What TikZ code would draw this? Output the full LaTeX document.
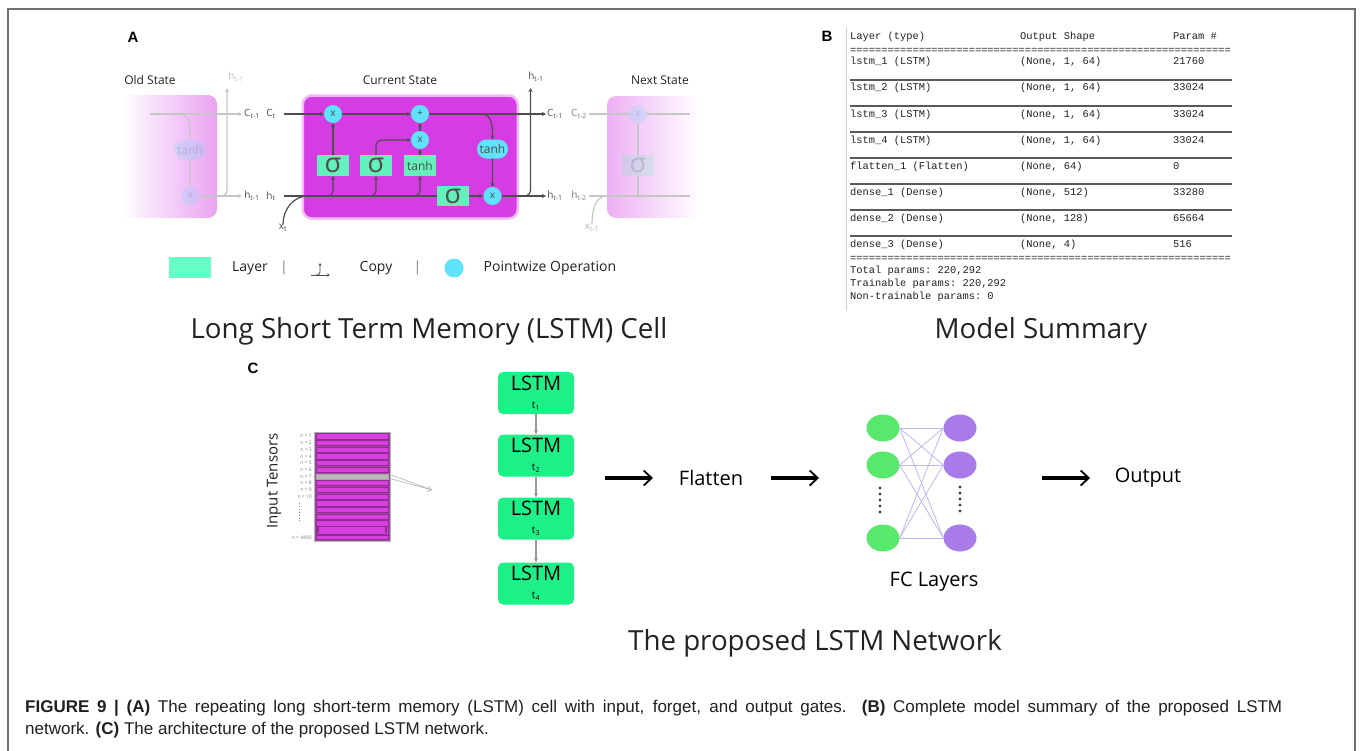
\documentclass[tikz,border=0pt]{standalone}
\usepackage{fontspec}
\setmainfont{Open Sans}
\setmonofont{Liberation Mono}
\newfontfamily\capfont{Liberation Sans}
\usetikzlibrary{arrows.meta,positioning,shapes.geometric,shapes.misc,calc}
\definecolor{txt}{HTML}{222222}
\definecolor{wiregray}{HTML}{4D4D4D}
\definecolor{cellpink}{HTML}{D63CE4}
\definecolor{oldpink}{HTML}{E9A3F1}
\definecolor{gategreen}{HTML}{63F0BA}
\definecolor{leggreen}{HTML}{66FFC6}
\definecolor{opcyan}{HTML}{5EE3FA}
\definecolor{lstmgreen}{HTML}{1EF088}
\definecolor{neurgreen}{HTML}{58E86C}
\definecolor{neurpurple}{HTML}{A87BE8}
\definecolor{linklav}{HTML}{BDB5F0}
\definecolor{tensorpink}{HTML}{D93FDF}
\definecolor{tensordark}{HTML}{8E2C92}
\definecolor{framegray}{HTML}{707070}
\definecolor{capblack}{HTML}{231F20}

\begin{document}
\begin{tikzpicture}[
  x=1pt, y=-1pt,
  >={Stealth[length=4pt,width=4pt]},
  ttl/.style={font=\fontsize{27.7}{30}\selectfont, text=txt, inner sep=0pt},
  panel/.style={font=\capfont\bfseries\fontsize{15}{16}\selectfont, inner sep=0pt},
  statelbl/.style={font=\fontsize{12}{13}\selectfont, text=txt, inner sep=0pt},
  lbl/.style={font=\fontsize{10}{10}\selectfont, text=wiregray, inner sep=0pt},
  cellbox/.style={fill=cellpink, draw=cellpink!35, line width=2.5pt, rounded corners=9pt, minimum width=215pt, minimum height=123pt},
  gate/.style={fill=gategreen, minimum width=32.5pt, minimum height=20.5pt, inner sep=0pt, font=\fontsize{12}{12}\selectfont, text=wiregray},
  sig/.style={gate, font=\fontsize{27}{27}\selectfont},
  pw/.style={circle, fill=opcyan, minimum size=18pt, inner sep=0pt, font=\fontsize{10}{10}\selectfont, text=wiregray},
  pill/.style={rounded rectangle, fill=opcyan, minimum width=31pt, minimum height=19pt, inner sep=0pt, font=\fontsize{12}{12}\selectfont, text=wiregray},
  wire/.style={draw=wiregray, line width=1.2pt},
  faint/.style={draw=gray!45, line width=1.2pt},
  ghost/.style={opacity=0.2},
  leg/.style={font=\fontsize{14}{14}\selectfont, text=txt, inner sep=0pt},
  mono/.style={font=\ttfamily\fontsize{10.4}{12}\selectfont, text=txt, anchor=west, inner sep=0pt, text height=7pt, text depth=2pt},
  rowrule/.style={draw=gray!70!black, line width=1.2pt},
  lstm/.style={fill=lstmgreen, rounded corners=5pt, minimum width=76pt, minimum height=42pt, inner sep=0pt, align=center, font=\fontsize{20}{18}\selectfont, text=black},
  down/.style={->, draw=gray!80, line width=1.3pt},
  nlbl/.style={font=\fontsize{5}{5}\selectfont, text=gray, anchor=east, inner sep=0pt},
  stripe/.style={fill=tensorpink, draw=tensordark, line width=0.6pt},
  fat/.style={line width=4.5pt, -{Straight Barb[length=8pt,width=15pt,line width=1.8pt]}},
  neur/.style={ellipse, minimum width=33pt, minimum height=27pt, inner sep=0pt},
  link/.style={draw=linklav, line width=0.8pt},
  bigtxt/.style={font=\fontsize{20}{20}\selectfont, text=black, inner sep=0pt},
  capline/.style={font=\capfont\fontsize{17}{19}\selectfont, text=capblack, anchor=west, inner sep=0pt},
]

\useasboundingbox (0,0) rectangle (1360,750);
\draw[framegray, line width=1.2pt] (8,760) -- (8,9) -- (1355,9) -- (1355,760);

\node[panel] (pa) at (133,37) {A};
\node[statelbl] (olds) at (150,80) {Old State};
\node[statelbl] (curs) at (400,80) {Current State};
\node[statelbl] (nexts) at (660,80) {Next State};

\shade[left color=white, middle color=oldpink!35!white, right color=oldpink, rounded corners=9pt] (120,95) rectangle (217,218);
\shade[left color=oldpink!85!white, right color=white, rounded corners=9pt] (607,96) rectangle (700,218);
\node[cellbox] (cell) at (410.25,157) {};

\node[pill, ghost] (otanh) at (190,150) {tanh};
\node[pw, ghost] (omul) at (190,196) {x};
\coordinate (ocin) at (150,114);
\coordinate (ocbr) at (180,114);
\coordinate (ocout) at (242,114);
\coordinate (ohbr) at (219,196);
\coordinate (ohout) at (242,196);
\coordinate (ohup) at (227,88);
\draw[faint,->] (ocin) -- (ocout);
\draw[faint] (ocbr) to[out=0,in=90] (otanh.north);
\draw[faint] (otanh) -- (omul);
\draw[faint,->] (omul) -- (ohout);
\draw[faint,->,rounded corners=6pt] (ohbr) -| (ohup);
\node[lbl] (oct1) at (252,114) {C\textsubscript{t-1}};
\node[lbl] (oct) at (271,114) {C\textsubscript{t}};
\node[lbl] (oht1) at (252,196) {h\textsubscript{t-1}};
\node[lbl] (oht) at (271,196) {h\textsubscript{t}};
\node[lbl, text=gray!50] (ohtop) at (236,77) {h\textsubscript{t-1}};

\node[pw] (mulf) at (333,114) {x};
\node[pw] (add) at (420,114) {+};
\node[pw] (muli) at (420,140) {x};
\node[pill] (tanhc) at (492.5,149) {tanh};
\node[pw] (mulo) at (492.5,196) {x};
\node[sig] (sf) at (333,165.5) {σ};
\node[sig] (si) at (376,165.5) {σ};
\node[gate] (tg) at (420,165.5) {tanh};
\node[sig] (so) at (453,196) {σ};
\node[lbl] (xt) at (283,228) {x\textsubscript{t}};
\coordinate (ctin) at (284,114);
\coordinate (ctout) at (546,114);
\coordinate (tbr) at (482,114);
\coordinate (htin) at (284,196);
\coordinate (htout) at (546,196);
\coordinate (hbr) at (521,196);
\coordinate (hup) at (530.5,88);
\coordinate (xjoin) at (308,196);

\draw[wire,->] (ctin) -- (mulf);
\draw[wire,->] (mulf) -- (add);
\draw[wire,->] (add) -- (ctout);
\draw[wire,->] (tbr) to[out=0,in=90] (tanhc.north);
\draw[wire,->] (tanhc) -- (mulo);
\draw[wire] (htin) -- (so);
\draw[wire,->] (so) -- (mulo);
\draw[wire,->] (mulo) -- (htout);
\draw[wire,->,rounded corners=6pt] (hbr) -| (hup);
\draw[wire] (xt) to[out=90,in=180] (xjoin);
\draw[wire,->,rounded corners=5pt] ($(sf.south|-htin)+(-9,0)$) -| (sf.south);
\draw[wire,->,rounded corners=5pt] ($(si.south|-htin)+(-9,0)$) -| (si.south);
\draw[wire,->,rounded corners=5pt] ($(tg.south|-htin)+(-9,0)$) -| (tg.south);
\draw[wire,->] (sf) -- (mulf);
\draw[wire,->,rounded corners=6pt] (si.north) |- (muli.west);
\draw[wire,->] (tg) -- (muli);
\draw[wire,->] (muli) -- (add);

\node[pw, ghost] (nxmul) at (638,114) {x};
\node[sig, ghost] (nxsig) at (638,165.5) {σ};
\node[lbl, text=gray!60] (nxt) at (592,228) {x\textsubscript{t-1}};
\coordinate (nxcin) at (589,114);
\coordinate (nxcend) at (690,114);
\coordinate (nxhin) at (589,196);
\coordinate (nxhend) at (690,196);
\coordinate (nxjoin) at (607,196);
\draw[faint] (nxcin) -- (nxmul);
\draw[faint] (nxmul) -- (nxcend);
\draw[faint] (nxmul) -- (nxsig);
\draw[faint] (nxsig) -- (nxsig |- nxhin);
\draw[faint] (nxhin) -- (nxhend);
\draw[faint] (nxt) to[out=90,in=180] (nxjoin);
\node[lbl] (ntop) at (536,77) {h\textsubscript{t-1}};
\node[lbl] (nct1) at (555,114) {C\textsubscript{t-1}};
\node[lbl, text=gray] (nct2) at (579,114) {C\textsubscript{t-2}};
\node[lbl] (nht1) at (555,196) {h\textsubscript{t-1}};
\node[lbl, text=gray] (nht2) at (579,196) {h\textsubscript{t-2}};

\node[fill=leggreen, minimum width=42pt, minimum height=21pt, inner sep=0pt] (leglay) at (190,267.5) {};
\node[leg] (leglayt) at (250,268) {Layer};
\node[leg, text=gray] (legsep1) at (284,268) {|};
\coordinate (cpa) at (311,275);
\coordinate (cpb) at (330,275);
\coordinate (cpbr) at (315,275);
\coordinate (cpup) at (320,263);
\draw[draw=wiregray, line width=0.8pt, -{Stealth[length=3pt,width=3pt]}] (cpa) -- (cpb);
\draw[draw=wiregray, line width=0.8pt, -{Stealth[length=3pt,width=3pt]}, rounded corners=3pt] (cpbr) -| (cpup);
\node[leg] (legcopy) at (376,268) {Copy};
\node[leg, text=gray] (legsep2) at (417.5,268) {|};
\node[circle, fill=opcyan, minimum size=19pt, inner sep=0pt] (legpw) at (454,268) {};
\node[leg] (legpwt) at (550,268) {Pointwize Operation};

\node[ttl] (ttla) at (429,331) {Long Short Term Memory (LSTM) Cell};

\node[panel] (pb) at (827,36) {B};
\draw[gray!35, line width=1pt] (846,27) -- (846,311);
\node[mono] (h1) at (850,37) {Layer (type)};
\node[mono] (h2) at (1020,37) {Output Shape};
\node[mono] (h3) at (1173,37) {Param \#};
\node[mono] (eq1) at (850,51) {=============================================================};
\node[mono] (r1a) at (850,62) {lstm\_1 (LSTM)};
\node[mono] (r1b) at (1020,62) {(None, 1, 64)};
\node[mono] (r1c) at (1173,62) {21760};
\node[mono] (r2a) at (850,88) {lstm\_2 (LSTM)};
\node[mono] (r2b) at (1020,88) {(None, 1, 64)};
\node[mono] (r2c) at (1173,88) {33024};
\node[mono] (r3a) at (850,115) {lstm\_3 (LSTM)};
\node[mono] (r3b) at (1020,115) {(None, 1, 64)};
\node[mono] (r3c) at (1173,115) {33024};
\node[mono] (r4a) at (850,141) {lstm\_4 (LSTM)};
\node[mono] (r4b) at (1020,141) {(None, 1, 64)};
\node[mono] (r4c) at (1173,141) {33024};
\node[mono] (r5a) at (850,167) {flatten\_1 (Flatten)};
\node[mono] (r5b) at (1020,167) {(None, 64)};
\node[mono] (r5c) at (1173,167) {0};
\node[mono] (r6a) at (850,193) {dense\_1 (Dense)};
\node[mono] (r6b) at (1020,193) {(None, 512)};
\node[mono] (r6c) at (1173,193) {33280};
\node[mono] (r7a) at (850,219) {dense\_2 (Dense)};
\node[mono] (r7b) at (1020,219) {(None, 128)};
\node[mono] (r7c) at (1173,219) {65664};
\node[mono] (r8a) at (850,245) {dense\_3 (Dense)};
\node[mono] (r8b) at (1020,245) {(None, 4)};
\node[mono] (r8c) at (1173,245) {516};
\node[mono] (eq2) at (850,259) {=============================================================};
\node[mono] (tot1) at (850,271) {Total params: 220,292};
\node[mono] (tot2) at (850,284) {Trainable params: 220,292};
\node[mono] (tot3) at (850,297) {Non-trainable params: 0};
\foreach \yy in {80,106,132,158,184,210,236}
  \draw[rowrule] (850,\yy) -- (1232,\yy);

\node[ttl] (ttlb) at (1041,331) {Model Summary};

\node[panel] (pc) at (253,368) {C};
\draw[fill=tensordark!85, draw=gray!60, line width=0.8pt] (314,432) rectangle (390,541);
\foreach \i in {0,...,13}
  \draw[stripe] (316,{433.6+6.7*\i}) rectangle (388,{438.8+6.7*\i});
\draw[stripe] (316,526) rectangle (388,534);
\draw[tensordark, line width=1.2pt] (318,527) -- (318,533) (386,527) -- (386,533);
\draw[stripe] (316,535.5) rectangle (388,539.5);
\draw[fill=gray!55, draw=gray!70, line width=0.6pt] (316,473.8) rectangle (388,479);
\foreach \i in {1,...,10}
  \node[nlbl] (n\i) at (312,{436.1+6.7*(\i-1)}) {n = \i};
\node[nlbl] (nlast) at (312,537.5) {n = 4480};
\draw[gray, dotted, line width=0.9pt] (299.5,503) -- (299.5,522);
\node[rotate=90, font=\fontsize{15}{15}\selectfont, text=txt, inner sep=0pt] (intens) at (274,481) {Input Tensors};
\coordinate (selt) at (390,474.5);
\coordinate (selb) at (390,478.5);
\coordinate (seltip) at (432,490);
\draw[gray!55, line width=0.7pt] (selt) -- (seltip);
\draw[gray!55, line width=0.7pt, -{Straight Barb[length=4pt,width=6pt]}] (selb) -- (seltip);

\node[lstm] (l1) at (536,393) {LSTM\\{\fontsize{10}{10}\selectfont t\textsubscript{1}}};
\node[lstm] (l2) at (536,455.5) {LSTM\\{\fontsize{10}{10}\selectfont t\textsubscript{2}}};
\node[lstm] (l3) at (536,518.5) {LSTM\\{\fontsize{10}{10}\selectfont t\textsubscript{3}}};
\node[lstm] (l4) at (536,583.5) {LSTM\\{\fontsize{10}{10}\selectfont t\textsubscript{4}}};
\draw[down] (l1) -- (l2);
\draw[down] (l2) -- (l3);
\draw[down] (l3) -- (l4);

\coordinate (fa1s) at (605,478);
\coordinate (fa1e) at (653,478);
\coordinate (fa2s) at (771,478);
\coordinate (fa2e) at (819,478);
\coordinate (fa3s) at (1042,478);
\coordinate (fa3e) at (1090,478);
\draw[fat] (fa1s) -- (fa1e);
\node[bigtxt] (flat) at (711,478) {Flatten};
\draw[fat] (fa2s) -- (fa2e);

\node[neur, fill=neurgreen] (g1) at (883,428) {};
\node[neur, fill=neurgreen] (g2) at (883,465) {};
\node[neur, fill=neurgreen] (g3) at (883,538) {};
\node[neur, fill=neurpurple] (p1) at (960,428) {};
\node[neur, fill=neurpurple] (p2) at (960,465) {};
\node[neur, fill=neurpurple] (p3) at (960,538) {};
\foreach \a in {g1,g2,g3}
  \foreach \b in {p1,p2,p3}
    \draw[link] (\a.east) -- (\b.west);
\foreach \k in {0,...,4}
  \fill[black!75] (880,{488+6*\k}) circle (1.7pt) (960,{487+6*\k}) circle (1.7pt);
\node[bigtxt] (fcl) at (934,582) {FC Layers};

\draw[fat] (fa3s) -- (fa3e);
\node[bigtxt] (outp) at (1148,478) {Output};

\node[ttl] (ttlc) at (815,643) {The proposed LSTM Network};

\node[capline] (cap1) at (25,708) {\makebox[1257pt][s]{\textbf{FIGURE 9 | (A)} The repeating long short-term memory (LSTM) cell with input, forget, and output gates. \textbf{(B)} Complete model summary of the proposed LSTM}};
\node[capline] (cap2) at (25,730) {network. \textbf{(C)} The architecture of the proposed LSTM network.};

\end{tikzpicture}
\end{document}
